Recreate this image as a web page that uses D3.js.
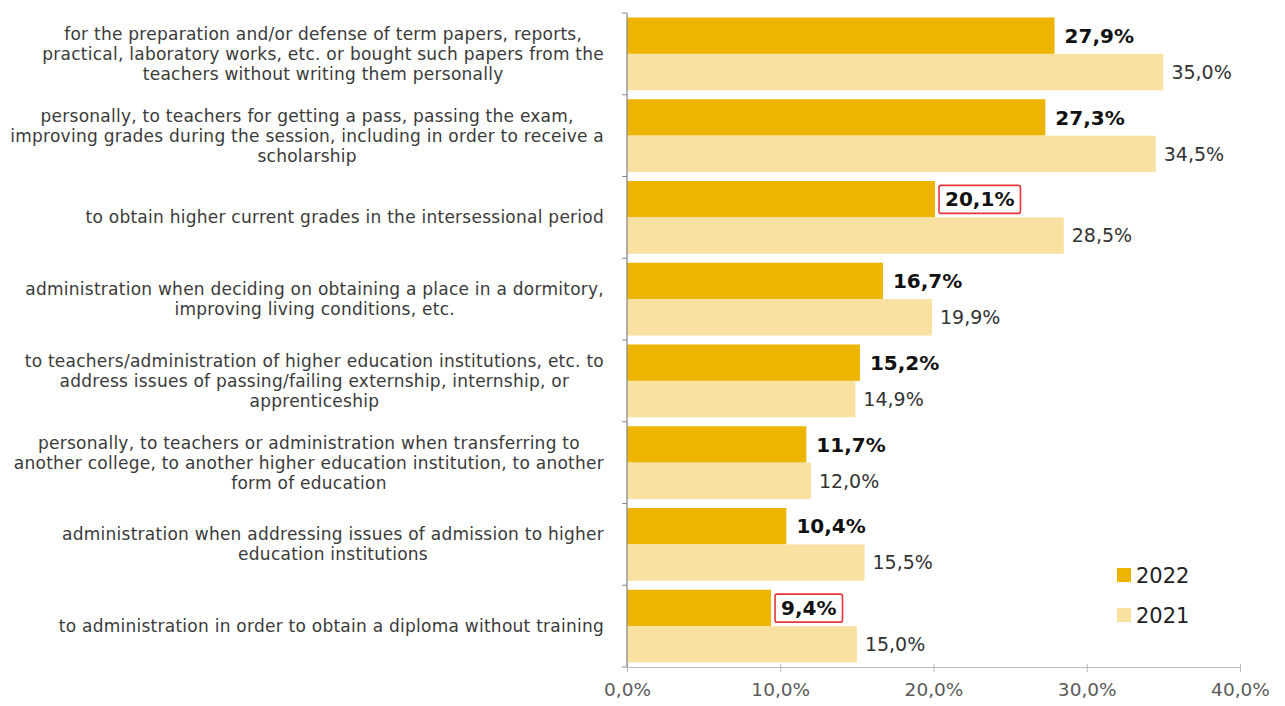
<!DOCTYPE html>
<html>
<head>
<meta charset="utf-8">
<script src="https://cdn.jsdelivr.net/npm/d3@7"></script>
<style>
  body { margin: 0; background: #fff; }
  svg { font-family: "DejaVu Sans", Verdana, sans-serif; }
</style>
</head>
<body>
<div id="chart"></div>
<script>
// categories, each already split into the lines shown in the picture
var categories = [
  ["for the preparation and/or defense of term papers, reports,", "practical, laboratory works, etc. or bought such papers from the", "teachers without writing them personally"],
  ["personally, to teachers for getting a pass, passing the exam,", "improving grades during the session, including in order to receive a", "scholarship"],
  ["to obtain higher current grades in the intersessional period"],
  ["administration when deciding on obtaining a place in a dormitory,", "improving living conditions, etc."],
  ["to teachers/administration of higher education institutions, etc. to", "address issues of passing/failing externship, internship, or", "apprenticeship"],
  ["personally, to teachers or administration when transferring to", "another college, to another higher education institution, to another", "form of education"],
  ["administration when addressing issues of admission to higher", "education institutions"],
  ["to administration in order to obtain a diploma without training"]
];
var series = ["2022", "2021"];
var values2022 = [27.9, 27.3, 20.1, 16.7, 15.2, 11.7, 10.4, 9.4];
var values2021 = [35.0, 34.5, 28.5, 19.9, 14.9, 12.0, 15.5, 15.0];
var highlighted2022 = [2, 7];   // values boxed in red
var xTicks = [0, 10, 20, 30, 40];

var colors = {"2022": "#edb500", "2021": "#f8e1a1"};

// set the dimensions and margins of the graph
var margin = {top: 13, right: 45, bottom: 39, left: 627},
    width = 1285 - margin.left - margin.right,
    height = 706 - margin.top - margin.bottom;

var svg = d3.select("#chart")
  .append("svg")
    .attr("width", 1285)
    .attr("height", 706)
  .append("g")
    .attr("transform", "translate(" + margin.left + "," + margin.top + ")");

var x = d3.scaleLinear()
  .domain([0, 40])
  .range([0, width]);

var y = d3.scaleBand()
  .domain(d3.range(categories.length))
  .range([0, height])
  .paddingInner(0.11)
  .paddingOuter(0.055);

var ySub = d3.scaleBand()
  .domain(series)
  .range([0, y.bandwidth()]);

var fmt = function(v) { return d3.format(".1f")(v).replace(".", ",") + "%"; };

// bars
var rows = categories.map(function(c, i) {
  return [{key: "2022", i: i, v: values2022[i]}, {key: "2021", i: i, v: values2021[i]}];
});

var groups = svg.selectAll(".grp")
  .data(rows)
  .enter()
  .append("g")
    .attr("class", "grp")
    .attr("transform", function(d, i) { return "translate(0," + y(i) + ")"; });

groups.selectAll("rect")
  .data(function(d) { return d; })
  .enter()
  .append("rect")
    .attr("x", 0)
    .attr("y", function(d) { return ySub(d.key); })
    .attr("width", function(d) { return x(d.v); })
    .attr("height", ySub.bandwidth())
    .attr("fill", function(d) { return colors[d.key]; });

// value labels
groups.selectAll(".val")
  .data(function(d) { return d; })
  .enter()
  .append("text")
    .attr("class", "val")
    .attr("x", function(d) { return x(d.v) + (d.key == "2022" ? 10 : 8); })
    .attr("y", function(d) { return ySub(d.key) + ySub.bandwidth() / 2; })
    .attr("dy", "0.36em")
    .style("font-size", function(d) { return d.key == "2022" ? "20px" : "19px"; })
    .style("font-weight", function(d) { return d.key == "2022" ? "bold" : "normal"; })
    .attr("fill", function(d) { return d.key == "2022" ? "#111" : "#333"; })
    .text(function(d) { return fmt(d.v); })
    .each(function(d) {
      if (d.key == "2022" && highlighted2022.indexOf(d.i) >= 0) {
        var bb = this.getBBox();
        d3.select(this.parentNode).append("rect")
          .attr("x", bb.x - 6)
          .attr("y", bb.y - 2)
          .attr("width", bb.width + 12)
          .attr("height", bb.height + 4)
          .attr("rx", 2)
          .attr("fill", "none")
          .attr("stroke", "#e8343a")
          .attr("stroke-width", 1.6);
      }
    });

// X axis
var xAxis = svg.append("g")
  .attr("transform", "translate(0," + height + ")")
  .call(d3.axisBottom(x)
    .tickValues(xTicks)
    .tickSize(5)
    .tickSizeOuter(0)
    .tickPadding(11)
    .tickFormat(function(d) { return d3.format(".1f")(d).replace(".", ",") + "%"; }));
xAxis.select(".domain").attr("stroke", "#b8bcc0");
xAxis.selectAll(".tick line").attr("stroke", "#b8bcc0").attr("y1", -3);
xAxis.selectAll(".tick text")
  .style("font-size", "18.5px")
  .style("font-family", "DejaVu Sans, Verdana, sans-serif")
  .attr("fill", "#5a5a5a");

// Y axis line and ticks at category boundaries
svg.append("line")
  .attr("x1", 0).attr("x2", 0)
  .attr("y1", 0).attr("y2", height)
  .attr("stroke", "#8a8a8a")
  .attr("stroke-width", 1.3);

var bounds = d3.range(categories.length + 1).map(function(i) {
  return i * y.step();
});
svg.selectAll(".ytick")
  .data(bounds)
  .enter()
  .append("line")
    .attr("x1", -5).attr("x2", 0)
    .attr("y1", function(d) { return d; })
    .attr("y2", function(d) { return d; })
    .attr("stroke", "#8a8a8a");

// category labels: wrapped lines centred inside a block right-aligned to the axis
var lineH = 20;
var labels = svg.selectAll(".cat")
  .data(categories)
  .enter()
  .append("text")
    .attr("class", "cat")
    .attr("fill", "#3a3a3a")
    .style("font-size", "17px")
    .style("letter-spacing", "0.25px");

labels.each(function(lines, i) {
  var t = d3.select(this);
  var cy = y(i) + y.bandwidth() / 2;
  var y0 = cy - (lines.length - 1) * lineH / 2;
  lines.forEach(function(l, k) {
    t.append("tspan")
      .attr("y", y0 + k * lineH)
      .attr("dy", "0.35em")
      .text(l);
  });
  var maxW = 0;
  t.selectAll("tspan").each(function() {
    maxW = Math.max(maxW, this.getComputedTextLength());
  });
  t.attr("text-anchor", "middle");
  t.selectAll("tspan").attr("x", -23 - maxW / 2);
});

// legend
var legend = svg.selectAll(".leg")
  .data(series)
  .enter()
  .append("g")
    .attr("class", "leg")
    .attr("transform", function(d, i) { return "translate(" + (1117 - margin.left) + "," + (575 - margin.top + i * 40) + ")"; });
legend.append("rect")
  .attr("x", 0).attr("y", -7)
  .attr("width", 14).attr("height", 14)
  .attr("fill", function(d) { return colors[d]; });
legend.append("text")
  .attr("x", 19)
  .attr("dy", "0.36em")
  .style("font-size", "21px")
  .attr("fill", "#222")
  .text(function(d) { return d; });
</script>
</body>
</html>
